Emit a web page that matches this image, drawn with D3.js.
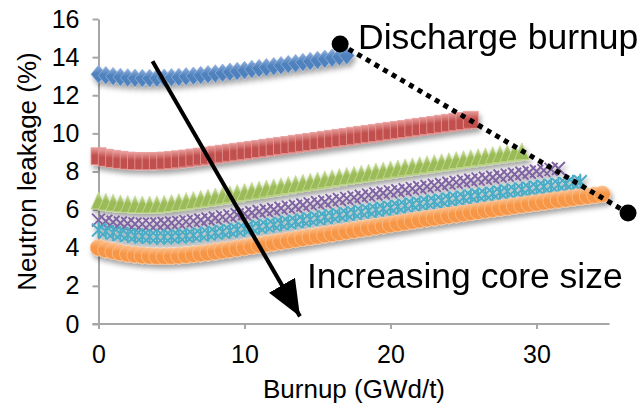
<!DOCTYPE html>
<html>
<head>
<meta charset="utf-8">
<script src="https://cdn.jsdelivr.net/npm/d3@7"></script>
<style>
  body { margin: 0; background: #fff; }
  text { font-family: "Liberation Sans", Arial, sans-serif; fill: #000; }
</style>
</head>
<body>
<div id="chart"></div>
<script>
// Burnup steps (GWd/t), point i of every series sits at burnup[i]
var burnup = [0, 0.5, 1, 1.5, 2, 2.5, 3, 3.5, 4, 4.5, 5, 5.5, 6, 6.5, 7, 7.5, 8, 8.5, 9, 9.5,
  10, 10.5, 11, 11.5, 12, 12.5, 13, 13.5, 14, 14.5, 15, 15.5, 16, 16.5, 17, 17.5, 18, 18.5, 19, 19.5,
  20, 20.5, 21, 21.5, 22, 22.5, 23, 23.5, 24, 24.5, 25, 25.5, 26, 26.5, 27, 27.5, 28, 28.5, 29, 29.5,
  30, 30.5, 31, 31.5, 32, 32.5, 33, 33.5, 34, 34.5, 35];

// Neutron leakage (%) per core size, smallest core first
var leakBlue = [13.10, 13.04, 12.99, 12.95, 12.92, 12.90, 12.89, 12.89, 12.90, 12.91,
  12.93, 12.95, 12.98, 13.01, 13.05, 13.09, 13.13, 13.17, 13.22, 13.26,
  13.31, 13.36, 13.41, 13.46, 13.51, 13.56, 13.62, 13.67, 13.73, 13.78,
  13.84, 13.90, 13.96, 14.02, 14.08];
var leakRed = [8.80, 8.72, 8.66, 8.61, 8.57, 8.55, 8.54, 8.54, 8.55, 8.57,
  8.60, 8.64, 8.68, 8.73, 8.78, 8.83, 8.88, 8.93, 8.98, 9.03,
  9.08, 9.13, 9.18, 9.24, 9.29, 9.34, 9.39, 9.45, 9.50, 9.55,
  9.60, 9.66, 9.71, 9.76, 9.81, 9.87, 9.92, 9.97, 10.02, 10.08,
  10.13, 10.18, 10.23, 10.29, 10.34, 10.39, 10.44, 10.50, 10.55, 10.60,
  10.65, 10.71];
var leakGreen = [6.40, 6.34, 6.29, 6.25, 6.22, 6.20, 6.19, 6.19, 6.20, 6.23,
  6.27, 6.32, 6.37, 6.43, 6.49, 6.55, 6.61, 6.67, 6.73, 6.79,
  6.85, 6.91, 6.97, 7.03, 7.09, 7.15, 7.21, 7.27, 7.33, 7.39,
  7.45, 7.51, 7.57, 7.63, 7.69, 7.75, 7.80, 7.86, 7.92, 7.97,
  8.03, 8.08, 8.14, 8.19, 8.25, 8.30, 8.36, 8.41, 8.46, 8.52,
  8.57, 8.62, 8.67, 8.72, 8.78, 8.83, 8.88, 8.93, 8.98];
var leakPurple = [5.45, 5.39, 5.34, 5.30, 5.27, 5.25, 5.24, 5.24, 5.25, 5.27,
  5.30, 5.33, 5.37, 5.41, 5.46, 5.51, 5.56, 5.62, 5.67, 5.73,
  5.78, 5.84, 5.90, 5.95, 6.01, 6.07, 6.13, 6.18, 6.24, 6.30,
  6.36, 6.41, 6.47, 6.53, 6.59, 6.64, 6.70, 6.76, 6.82, 6.87,
  6.93, 6.99, 7.04, 7.10, 7.16, 7.21, 7.27, 7.32, 7.38, 7.43,
  7.49, 7.54, 7.60, 7.65, 7.70, 7.76, 7.81, 7.86, 7.91, 7.96,
  8.01, 8.06, 8.11, 8.16];
var leakCyan = [4.93, 4.85, 4.78, 4.72, 4.67, 4.63, 4.60, 4.58, 4.57, 4.57,
  4.58, 4.60, 4.63, 4.66, 4.70, 4.74, 4.79, 4.84, 4.89, 4.94,
  4.99, 5.05, 5.10, 5.16, 5.21, 5.27, 5.33, 5.38, 5.44, 5.49,
  5.55, 5.61, 5.66, 5.72, 5.77, 5.83, 5.88, 5.94, 5.99, 6.05,
  6.10, 6.16, 6.21, 6.27, 6.32, 6.38, 6.43, 6.48, 6.54, 6.59,
  6.64, 6.70, 6.75, 6.80, 6.85, 6.91, 6.96, 7.01, 7.06, 7.11,
  7.16, 7.21, 7.26, 7.31, 7.36, 7.41, 7.46];
var leakOrange = [4.00, 3.90, 3.82, 3.74, 3.68, 3.63, 3.59, 3.57, 3.55, 3.55,
  3.56, 3.58, 3.61, 3.65, 3.69, 3.74, 3.79, 3.85, 3.90, 3.96,
  4.02, 4.08, 4.14, 4.20, 4.26, 4.32, 4.38, 4.44, 4.50, 4.56,
  4.62, 4.68, 4.74, 4.80, 4.86, 4.92, 4.98, 5.04, 5.10, 5.16,
  5.22, 5.28, 5.34, 5.40, 5.46, 5.52, 5.57, 5.63, 5.69, 5.74,
  5.80, 5.86, 5.91, 5.97, 6.02, 6.08, 6.13, 6.19, 6.24, 6.30,
  6.35, 6.40, 6.46, 6.51, 6.56, 6.61, 6.66, 6.71, 6.76, 6.81];

var xTicks = [0, 10, 20, 30];
var yTicks = [0, 2, 4, 6, 8, 10, 12, 14, 16];

// annotations, in data units
var dischargeX = [16.55, 36.27], dischargeY = [14.69, 5.82];
var arrowX = [3.7, 13.8], arrowY = [13.78, 0.4];

var series = [
  {values: leakBlue,   color: "#4f81bd", light: "#8fb0dc", shape: "diamond"},
  {values: leakRed,    color: "#c0504d", light: "#e89c9a", shape: "square"},
  {values: leakGreen,  color: "#9bbb59", light: "#c6dc97", shape: "triangle"},
  {values: leakPurple, color: "#8064a2", light: "#b09cc8", shape: "cross"},
  {values: leakCyan,   color: "#4bacc6", light: "#93d2e2", shape: "star"},
  {values: leakOrange, color: "#f79646", light: "#fbc08e", shape: "circle"}
];

var shapes = {
  diamond: "M0,-9L7.5,0L0,9L-7.5,0Z",
  square: "M-7.5,-8.5H7.5V8.5H-7.5Z",
  triangle: "M0,-10L7.5,7L-7.5,7Z",
  cross: "M-6.5,-6.5L6.5,6.5M-6.5,6.5L6.5,-6.5",
  star: "M-6.5,-6.5L6.5,6.5M-6.5,6.5L6.5,-6.5M0,-8V8"
};

var W = 642, H = 413;
var svg = d3.select("#chart").append("svg")
    .attr("width", W)
    .attr("height", H);

var x = d3.scaleLinear().domain([0, 35]).range([98.5, 609.5]);
var y = d3.scaleLinear().domain([0, 16]).range([324, 19]);

var defs = svg.append("defs");

var shadow = defs.append("filter")
    .attr("id", "shadow")
    .attr("x", "-10%").attr("y", "-30%")
    .attr("width", "130%").attr("height", "180%");
shadow.append("feDropShadow")
    .attr("dx", 2).attr("dy", 4)
    .attr("stdDeviation", 2.5)
    .attr("flood-color", "#000")
    .attr("flood-opacity", 0.35);

series.forEach(function(s, i) {
  var g = defs.append("linearGradient")
      .attr("id", "grad" + i)
      .attr("x1", 0).attr("y1", 0).attr("x2", 0).attr("y2", 1);
  g.append("stop").attr("offset", "0%").attr("stop-color", s.light);
  g.append("stop").attr("offset", "45%").attr("stop-color", s.color);
  g.append("stop").attr("offset", "100%").attr("stop-color", s.color);
});

defs.append("marker")
    .attr("id", "arrowhead")
    .attr("viewBox", "0 0 10 10")
    .attr("refX", 10).attr("refY", 5)
    .attr("markerUnits", "userSpaceOnUse")
    .attr("markerWidth", 36).attr("markerHeight", 30)
    .attr("preserveAspectRatio", "none")
    .attr("orient", "auto")
  .append("path")
    .attr("d", "M0,0L10,5L0,10Z")
    .attr("fill", "#000");

// Axes
var yAxis = d3.axisLeft(y).tickValues(yTicks).tickSize(6).tickSizeOuter(0).tickPadding(13);
var xAxis = d3.axisBottom(x).tickValues(xTicks).tickSize(5).tickSizeOuter(0).tickPadding(16);

var gx = svg.append("g")
    .attr("transform", "translate(0," + y(0) + ")")
    .call(xAxis);
var gy = svg.append("g")
    .attr("transform", "translate(" + x(0) + ",0)")
    .call(yAxis);

[gx, gy].forEach(function(g) {
  g.selectAll("path, line").attr("stroke", "#a6a6a6").attr("stroke-width", 2);
  g.selectAll("text").attr("font-size", 25).attr("font-family", null).attr("fill", "#000");
});
gx.select(".domain").attr("d", "M" + (x(0) - 6) + ",0H" + x(35));

svg.append("text")
    .attr("x", (x(0) + x(35)) / 2)
    .attr("y", 398)
    .attr("text-anchor", "middle")
    .attr("font-size", 26)
    .text("Burnup (GWd/t)");

svg.append("text")
    .attr("transform", "translate(36," + (y(0) + y(16)) / 2 + ") rotate(-90)")
    .attr("text-anchor", "middle")
    .attr("font-size", 26)
    .text("Neutron leakage (%)");

// Series markers
var marks = svg.append("g").attr("filter", "url(#shadow)");

series.forEach(function(s, i) {
  var pts = s.values.map(function(v, j) { return [burnup[j], v]; });
  var g = marks.append("g").attr("class", "series series-" + i);
  var sel = g.selectAll(".pt")
      .data(pts)
    .enter();
  if (s.shape === "circle") {
    sel.append("circle")
        .attr("cx", function(d) { return x(d[0]); })
        .attr("cy", function(d) { return y(d[1]); })
        .attr("r", 8.2)
        .attr("fill", "url(#grad" + i + ")")
        .attr("stroke", s.light)
        .attr("stroke-width", 0.8);
  } else if (s.shape === "cross" || s.shape === "star") {
    sel.append("path")
        .attr("transform", function(d) { return "translate(" + x(d[0]) + "," + y(d[1]) + ")"; })
        .attr("d", shapes[s.shape])
        .attr("fill", "none")
        .attr("stroke", s.color)
        .attr("stroke-width", 2);
  } else {
    sel.append("path")
        .attr("transform", function(d) { return "translate(" + x(d[0]) + "," + y(d[1]) + ")"; })
        .attr("d", shapes[s.shape])
        .attr("fill", "url(#grad" + i + ")")
        .attr("stroke", s.light)
        .attr("stroke-width", 0.8);
  }
});

// Discharge burnup dotted line with end dots
svg.append("line")
    .attr("x1", x(dischargeX[0])).attr("y1", y(dischargeY[0]))
    .attr("x2", x(dischargeX[1])).attr("y2", y(dischargeY[1]))
    .attr("stroke", "#000")
    .attr("stroke-width", 5)
    .attr("stroke-dasharray", "5,5");
svg.selectAll(".enddot")
    .data(d3.zip(dischargeX, dischargeY))
  .enter().append("circle")
    .attr("class", "enddot")
    .attr("cx", function(d) { return x(d[0]); })
    .attr("cy", function(d) { return y(d[1]); })
    .attr("r", 8.5)
    .attr("fill", "#000");

// Increasing core size arrow
svg.append("line")
    .attr("x1", x(arrowX[0])).attr("y1", y(arrowY[0]))
    .attr("x2", x(arrowX[1])).attr("y2", y(arrowY[1]))
    .attr("stroke", "#000")
    .attr("stroke-width", 4)
    .attr("marker-end", "url(#arrowhead)");

svg.append("text")
    .attr("x", 358)
    .attr("y", 49)
    .attr("font-size", 35.5)
    .text("Discharge burnup");

svg.append("text")
    .attr("x", 307)
    .attr("y", 288)
    .attr("font-size", 35.5)
    .text("Increasing core size");
</script>
</body>
</html>
